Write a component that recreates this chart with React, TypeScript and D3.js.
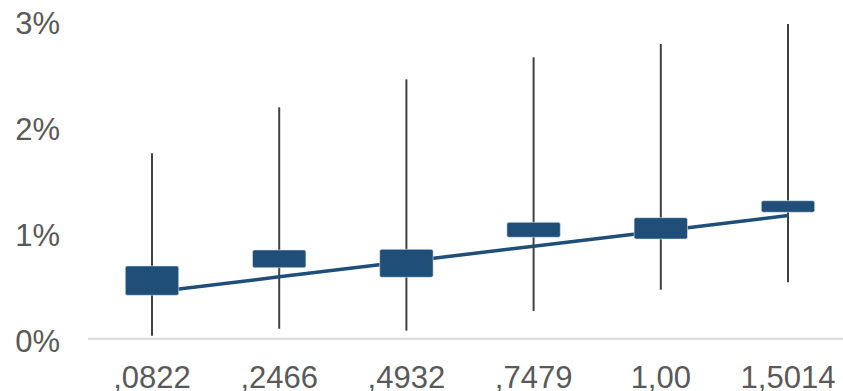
import React from "react";
import * as d3 from "d3";

const categories = [",0822", ",2466", ",4932", ",7479", "1,00", "1,5014"];
const whiskerLow = [0.028, 0.094, 0.076, 0.262, 0.463, 0.533];
const whiskerHigh = [1.751, 2.185, 2.449, 2.657, 2.783, 2.972];
const boxLow = [0.41, 0.67, 0.58, 0.958, 0.941, 1.194];
const boxHigh = [0.687, 0.838, 0.844, 1.099, 1.143, 1.303];
const trend = [0.439, 0.584, 0.729, 0.873, 1.018, 1.163];
const yTicks = [0, 1, 2, 3];

const W = 843;
const H = 391;
const BLUE = "#1F4E79";

export default function App() {
  const x = d3.scaleBand<string>().domain(categories).range([88.4, 851.6]).padding(0);
  const y = d3.scaleLinear().domain([0, 3]).range([338.7, 21]);
  const cx = (c: string) => (x(c) as number) + x.bandwidth() / 2;
  const boxW = x.bandwidth() * 0.42;
  const line = d3
    .line<number>()
    .x((_, i) => cx(categories[i]))
    .y((d) => y(d));

  return (
    <svg
      width={W}
      height={H}
      style={{ position: "absolute", left: 0, top: 0, display: "block" }}
      fontFamily="'Liberation Sans', Arial, sans-serif"
    >
      <rect width={W} height={H} fill="#fff" />
      {yTicks.map((t) => (
        <text
          key={t}
          x={60}
          y={y(t) + 13}
          textAnchor="end"
          fontSize={31}
          fill="#595959"
        >
          {t}%
        </text>
      ))}
      <line x1={88} x2={W} y1={y(0)} y2={y(0)} stroke="#d9d9d9" strokeWidth={2} />
      {categories.map((c, i) => (
        <line
          key={"w" + c}
          x1={cx(c)}
          x2={cx(c)}
          y1={y(whiskerLow[i])}
          y2={y(whiskerHigh[i])}
          stroke="#404040"
          strokeWidth={2}
        />
      ))}
      <path d={line(trend) || ""} fill="none" stroke={BLUE} strokeWidth={3.5} />
      {categories.map((c, i) => (
        <rect
          key={"b" + c}
          x={cx(c) - boxW / 2}
          y={y(boxHigh[i])}
          width={boxW}
          height={y(boxLow[i]) - y(boxHigh[i])}
          rx={2}
          fill={BLUE}
          stroke="#dbe5f1"
          strokeWidth={0.6}
        />
      ))}
      {categories.map((c) => (
        <text
          key={"l" + c}
          x={cx(c)}
          y={388}
          textAnchor="middle"
          fontSize={31}
          fill="#595959"
        >
          {c}
        </text>
      ))}
    </svg>
  );
}
